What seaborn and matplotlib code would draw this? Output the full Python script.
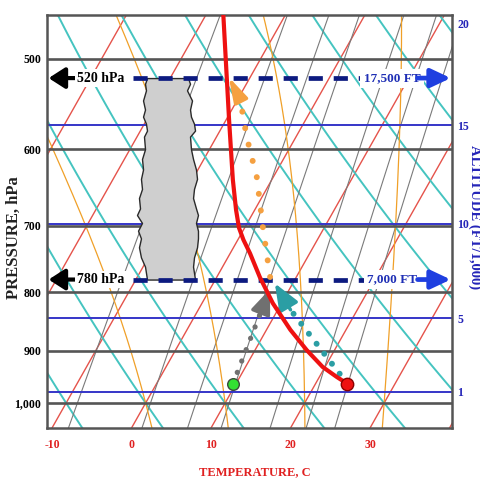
import numpy as np
import matplotlib
matplotlib.use("Agg")
import matplotlib.pyplot as plt
from matplotlib.transforms import Affine2D
from matplotlib.ticker import NullLocator
import seaborn as sns

# reference lines of the skew-T background
ISOTHERMS_C = list(range(-50, 50, 10))
DRY_ADIABATS_C = list(range(-20, 100, 10))      # potential temperature, C
MOIST_ADIABATS_C = [0, 10, 20, 30]              # wet-bulb potential temperature, C
MIXING_RATIOS_GKG = [2, 4, 6, 8, 12, 16, 20]

ISOBARS_HPA = [500, 600, 700, 800, 900, 1000]
ISOBAR_LABELS = ["500", "600", "700", "800", "900", "1,000"]
TEMP_TICKS_C = [-10, 0, 10, 20, 30]
TEMP_LABELS = ["-10", "0", "10", "20", "30"]
ALT_TICKS_KFT = [1, 5, 10, 15, 20]
ALT_LINES_KFT = [1, 5, 10, 15]

# sounding
ENV_P = [962, 949, 930, 899, 863, 818, 776, 740, 720, 703, 678, 638, 566, 458]
ENV_T = [24.0, 22.2, 19.7, 16.5, 13.0, 8.9, 5.4, 2.5, 0.7, -0.7, -2.35, -4.9, -9.6, -17.8]
SFC_P = 962
SFC_T = 24.0
SFC_TD = 9.6

DEW_PATH_P = [962, 838, 795]
DEW_PATH_T = [9.6, 8.1, 7.55]
DRY_PATH_P = [962, 829, 786]
DRY_PATH_T = [24.0, 11.6, 7.75]
MOIST_PATH_P = [776, 702, 635, 586, 543, 519]
MOIST_PATH_T = [6.7, 2.25, -2.05, -6.15, -9.66, -12.7]

# cloud outline (unskewed x)
CLOUD_P = [520, 526, 533, 544, 554, 562, 570, 578, 585, 600, 612, 625,
           637, 650, 662, 676, 685, 696, 707, 718, 731, 746, 760, 780]
CLOUD_LEFT = [1.95, 1.70, 1.82, 1.45, 1.70, 1.45, 1.82, 1.95, 1.57, 1.70, 1.32, 1.45,
              1.19, 1.32, 0.94, 1.07, 0.69, 1.32, 0.82, 1.19, 0.94, 1.19, 1.70, 1.95]
CLOUD_RIGHT = [7.11, 7.36, 6.98, 7.61, 7.36, 7.48, 7.86, 7.99, 7.36, 7.48, 7.74, 8.11,
               8.24, 7.86, 7.74, 8.11, 8.36, 8.11, 8.36, 8.36, 8.24, 7.86, 7.74, 7.99]

TOP_HPA, BASE_HPA = 520, 780
TOP_LABEL, BASE_LABEL = "520 hPa", "780 hPa"
TOP_FT, BASE_FT = "17,500 FT", "7,000 FT"

P_BOTTOM, P_TOP = 1051.6, 458
SKEW = 0.565


def alt_to_p(kft):
    return 1013.25 * (1 - 6.8756e-6 * np.asarray(kft) * 1000.0) ** 5.2559


def dry_adiabat(theta_c, p):
    return (theta_c + 273.15) * (p / 1000.0) ** 0.2857 - 273.15


def mixing_line(w, p):
    e = w * p / (622.0 + w)
    a = np.log(e / 6.112)
    return 243.5 * a / (17.67 - a)


def moist_adiabat(thw_c, p_end, step):
    Rd, Cp, Lv, eps = 287.04, 1005.7, 2.501e6, 0.622

    def dtdp(T, p):
        es = 6.112 * np.exp(17.67 * (T - 273.15) / (T - 29.65))
        rs = eps * es / (p - es)
        return (Rd * T + Lv * rs) / (Cp + Lv ** 2 * rs * eps / (Rd * T ** 2)) / p

    ps = np.arange(1000.0, p_end, step)
    ts = [thw_c + 273.15]
    for p in ps[:-1]:
        T = ts[-1]
        k1 = dtdp(T, p)
        k2 = dtdp(T + 0.5 * step * k1, p + 0.5 * step)
        k3 = dtdp(T + 0.5 * step * k2, p + 0.5 * step)
        k4 = dtdp(T + step * k3, p + step)
        ts.append(T + step * (k1 + 2 * k2 + 2 * k3 + k4) / 6)
    return ps, np.array(ts) - 273.15


def arrow_head(ax, tr, t, p, color, length, width):
    ax.annotate("", xy=(t[-1], p[-1]), xytext=(t[-2], p[-2]),
                xycoords=tr, textcoords=tr,
                arrowprops=dict(arrowstyle=f"-|>,head_length={length},head_width={width}",
                                color=color, lw=2.5, mutation_scale=20,
                                shrinkA=0, shrinkB=0), zorder=6)


sns.set_theme(style="white")
plt.rcParams["font.family"] = ["Liberation Serif", "DejaVu Serif"]
plt.rcParams["font.weight"] = "bold"

fig = plt.figure(figsize=(4.81, 4.83), dpi=100)
ax = fig.add_axes([47 / 481, 55 / 483, 405 / 481, 413 / 483])
ax.set_yscale("log")
ax.set_ylim(P_BOTTOM, P_TOP)
ax.set_xlim(-10.63, 40.31)

y0 = ax.transAxes.transform((0, 0))[1]
skew = ax.transData + Affine2D().translate(0, -y0).skew(np.arctan(SKEW), 0).translate(0, y0)

pp = np.geomspace(1080, 440, 80)
for t in ISOTHERMS_C:
    ax.plot([t, t], [1080, 440], transform=skew, color="#e5534b", lw=1.0, zorder=1)
for th in DRY_ADIABATS_C:
    ax.plot(dry_adiabat(th, pp), pp, transform=skew, color="#45c4c0", lw=1.4, zorder=1)
for w in MIXING_RATIOS_GKG:
    ax.plot(mixing_line(w, pp), pp, transform=skew, color="#7a7a7a", lw=0.8, zorder=1)
for thw in MOIST_ADIABATS_C:
    for p_end, step in ((435.0, -2.0), (1082.0, 2.0)):
        ps, ts = moist_adiabat(thw, p_end, step)
        ax.plot(ts, ps, transform=skew, color="#f0a028", lw=0.9, zorder=1)

for p in ISOBARS_HPA:
    ax.axhline(p, color="#555555", lw=1.9, zorder=2)
for p in alt_to_p(ALT_LINES_KFT):
    ax.axhline(p, color="#3535c8", lw=1.4, zorder=2)

# cloud
ax.fill_betweenx(CLOUD_P, CLOUD_LEFT, CLOUD_RIGHT, facecolor="#cfcfcf",
                 edgecolor="#2a2a2a", lw=1.0, zorder=3)

# cloud top / base markers
ytr = ax.get_yaxis_transform()
for p, lab, ft in ((TOP_HPA, TOP_LABEL, TOP_FT), (BASE_HPA, BASE_LABEL, BASE_FT)):
    ax.plot([0.212, 0.8], [p, p], transform=ytr, color="#0c1a80", lw=3.4,
            dashes=(3.0, 2.3), solid_capstyle="butt", zorder=4)
    ax.annotate("", xy=(0.004, p), xytext=(0.072, p), xycoords=ytr,
                arrowprops=dict(arrowstyle="-|>,head_length=0.7,head_width=0.45",
                                color="black", lw=3, mutation_scale=14,
                                shrinkA=0, shrinkB=0), zorder=5)
    ax.text(0.133, p, lab, transform=ytr, ha="center", va="center", fontsize=10,
            color="black", zorder=5,
            bbox=dict(facecolor="white", edgecolor="none", pad=1.5))
    ax.text(0.852, p, ft, transform=ytr, ha="center", va="center", fontsize=9.5,
            color="#1f2fb5", zorder=5,
            bbox=dict(facecolor="white", edgecolor="none", pad=2.5))
    ax.annotate("", xy=(0.997, p), xytext=(0.915, p), xycoords=ytr,
                arrowprops=dict(arrowstyle="-|>,head_length=0.85,head_width=0.4",
                                color="#1f3fe0", lw=3.4, mutation_scale=14,
                                shrinkA=0, shrinkB=0), zorder=5)

# parcel paths: dotted runs, arrow heads on the last leg
ax.plot(DEW_PATH_T[:-1], DEW_PATH_P[:-1], transform=skew, color="#707070", lw=3.8,
        linestyle=(0, (0.01, 2.3)), dash_capstyle="round", zorder=6)
arrow_head(ax, skew, DEW_PATH_T, DEW_PATH_P, "#707070", 0.75, 0.3)
ax.plot(DRY_PATH_T[:-1], DRY_PATH_P[:-1], transform=skew, color="#2b9ea4", lw=4.3,
        linestyle=(0, (0.01, 2.1)), dash_capstyle="round", zorder=6)
arrow_head(ax, skew, DRY_PATH_T, DRY_PATH_P, "#2b9ea4", 0.8, 0.32)
ax.plot(MOIST_PATH_T[:-1], MOIST_PATH_P[:-1], transform=skew, color="#f5a040", lw=4.3,
        linestyle=(0, (0.01, 2.8)), dash_capstyle="round", zorder=6)
arrow_head(ax, skew, MOIST_PATH_T, MOIST_PATH_P, "#f5a040", 0.75, 0.22)

# environmental temperature
sns.lineplot(x=ENV_T, y=ENV_P, sort=False, estimator=None, color="#ee1111", lw=3.0,
             transform=skew, ax=ax, zorder=7)
sns.scatterplot(x=[SFC_T], y=[SFC_P], color="#ee1111", edgecolor="#8a0000", linewidth=1,
                s=80, transform=skew, ax=ax, zorder=8)
sns.scatterplot(x=[SFC_TD], y=[SFC_P], color="#33e033", edgecolor="#3a4a3a", linewidth=1,
                s=70, transform=skew, ax=ax, zorder=8)

ax.set_yscale("log")
ax.set_ylim(P_BOTTOM, P_TOP)
ax.set_xlim(-10.63, 40.31)
ax.set_xlabel("")
ax.set_ylabel("")
ax.set_yticks(ISOBARS_HPA, ISOBAR_LABELS)
ax.yaxis.set_minor_locator(NullLocator())
ax.set_xticks(TEMP_TICKS_C, TEMP_LABELS)
ax.tick_params(axis="y", length=0, pad=4, labelsize=8.5, labelcolor="black")
ax.tick_params(axis="x", length=0, pad=8, labelsize=8.5, labelcolor="#e02020")
for sp in ax.spines.values():
    sp.set_color("#555555")
    sp.set_linewidth(1.8)

ax2 = ax.twinx()
ax2.set_yscale("log")
ax2.set_ylim(P_BOTTOM, P_TOP)
ax2.set_yticks(alt_to_p(ALT_TICKS_KFT), [str(a) for a in ALT_TICKS_KFT])
ax2.yaxis.set_minor_locator(NullLocator())
ax2.tick_params(axis="y", length=0, pad=4, labelsize=8.5, labelcolor="#2424b8")
for sp in ax2.spines.values():
    sp.set_visible(False)

fig.text(14 / 481, 1 - 238 / 483, "PRESSURE, hPa", rotation=90, ha="center", va="center",
         fontsize=12, color="#222222")
fig.text(475 / 481, 1 - 217 / 483, "ALTITUDE (FT/1,000)", rotation=270, ha="center",
         va="center", fontsize=10.5, color="#2424b8")
fig.text(255 / 481, 1 - 472 / 483, "TEMPERATURE, C", ha="center", va="center",
         fontsize=9, color="#e02020")

fig.savefig("out.png", dpi=100)
